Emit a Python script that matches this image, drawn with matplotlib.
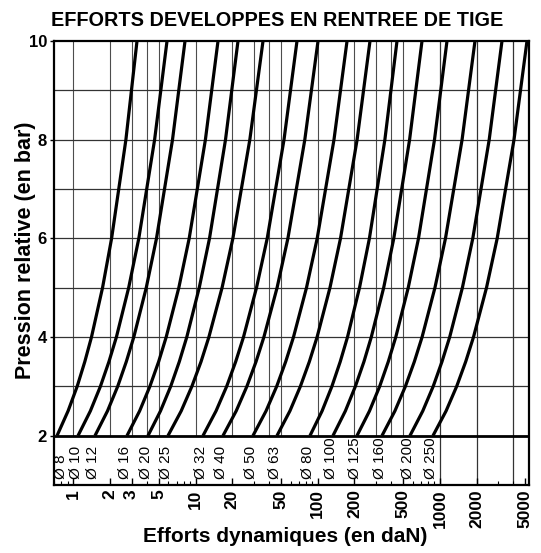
import numpy as np
import matplotlib
matplotlib.use('Agg')
import matplotlib.pyplot as plt

plt.rcParams['font.family'] = ['Liberation Sans', 'DejaVu Sans']

# pressions relatives (bar) where the efforts were read
pressions = [2, 2.5, 3, 3.5, 4, 5, 6, 8, 10]

# cylinder diameters (mm) and efforts (daN)
diametres = [8, 10, 12, 16, 20, 25, 32, 40, 50, 63, 80, 100, 125, 160, 200, 250]
efforts = [
    [0.736, 0.906, 1.076, 1.242, 1.409, 1.735, 2.058, 2.694, 3.321],
    [1.093, 1.379, 1.667, 1.957, 2.253, 2.839, 3.436, 4.627, 5.846],
    [1.505, 1.904, 2.309, 2.714, 3.127, 3.954, 4.796, 6.484, 8.206],
    [2.751, 3.488, 4.235, 4.993, 5.758, 7.303, 8.879, 12.05, 15.28],
    [4.087, 5.168, 6.268, 7.369, 8.488, 10.73, 13.02, 17.60, 22.27],
    [5.957, 7.635, 9.344, 11.10, 12.87, 16.50, 20.23, 27.83, 35.68],
    [11.52, 14.72, 18.00, 21.32, 24.71, 31.57, 38.63, 53.00, 67.69],
    [16.79, 21.52, 26.34, 31.28, 36.29, 46.52, 57.04, 78.43, 100.6],
    [29.54, 37.77, 46.18, 54.70, 63.39, 80.98, 99.06, 135.9, 173.8],
    [46.44, 59.21, 72.17, 85.43, 98.88, 126.0, 153.7, 210.1, 267.9],
    [86.50, 108.6, 130.7, 152.9, 175.4, 219.9, 265.0, 354.6, 445.6],
    [133.4, 168.4, 203.4, 239.0, 274.6, 346.7, 419.5, 564.9, 713.8],
    [209.7, 265.3, 321.6, 378.1, 435.6, 550.7, 668.2, 903.2, 1143],
    [335.9, 428.2, 522.1, 617.8, 715.1, 910.9, 1111, 1519, 1937],
    [569.2, 724.1, 881.5, 1040, 1203, 1528, 1859, 2532, 3222],
    [878.1, 1123, 1372, 1626, 1884, 2407, 2944, 4041, 5161],
]

x_ticks = [1, 2, 3, 5, 10, 20, 50, 100, 200, 500, 1000, 2000, 5000]
x_grid = [1, 2, 3, 4, 5, 10, 20, 30, 40, 50, 100, 200, 300, 400, 500]
x_grid_full = [1000, 2000, 4000]
y_ticks = [2, 4, 6, 8, 10]

fig = plt.figure(figsize=(5.41, 5.53), dpi=100)
ax = fig.add_axes([54/541, 68/553, 475/541, 444/553])

ax.set_xscale('log')
ax.set_xlim(0.695, 5360)
ax.set_ylim(1, 10)

# grid
for xv in x_grid:
    ax.plot([xv, xv], [2, 10], color='0.3', lw=0.8, zorder=1)
for xv in x_grid_full:
    ax.plot([xv, xv], [1, 10], color='0.2', lw=0.9, zorder=1)
for yv in range(3, 10):
    ax.axhline(yv, color='0.2', lw=0.9, zorder=1)
ax.axhline(2, color='black', lw=2.0, zorder=2)

for d, f in zip(diametres, efforts):
    ax.plot(f, pressions, color='black', lw=2.3, solid_capstyle='butt', zorder=3)
    ax.text(max(f[0] * 0.965, 0.80), 1.12, '\u00d8 %d' % d, rotation=90, ha='center',
            va='bottom', fontsize=11, zorder=4)

ax.set_xticks(x_ticks)
ax.set_xticklabels([str(v) for v in x_ticks], rotation=90, fontweight='bold', fontsize=12.5)
ax.tick_params(axis='x', which='both', direction='in', top=False, pad=3)
ax.tick_params(axis='x', which='major', length=5, width=1)
ax.tick_params(axis='x', which='minor', length=3, width=0.8)
ax.set_yticks(y_ticks)
ax.set_yticklabels([str(v) for v in y_ticks], fontweight='bold', fontsize=12)
ax.tick_params(axis='y', direction='out', length=3, width=1, pad=2)

for s in ax.spines.values():
    s.set_linewidth(1.6)

fig.text(277/541, 1 - 21/553, 'EFFORTS DEVELOPPES EN RENTREE DE TIGE',
         ha='center', va='center', fontsize=14.3, fontweight='bold')
fig.text(26/541, 1 - 250/553, 'Pression relative (en bar)', rotation=90,
         ha='center', va='center', fontsize=15.5, fontweight='bold')
fig.text(285/541, 1 - 537/553, 'Efforts dynamiques (en daN)',
         ha='center', va='center', fontsize=15, fontweight='bold')

fig.savefig('out.png', dpi=100)
